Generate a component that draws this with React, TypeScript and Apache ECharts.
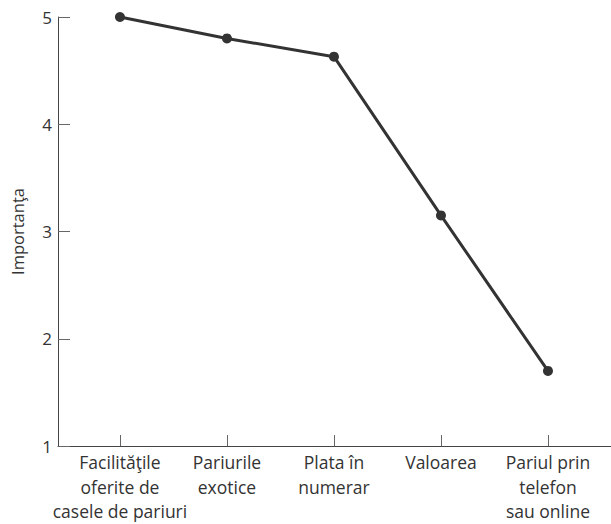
import React, { useEffect, useRef } from "react";
import * as echarts from "echarts";

const categories = [
  "Facilităţile\noferite de\ncasele de pariuri",
  "Pariurile\nexotice",
  "Plata în\nnumerar",
  "Valoarea",
  "Pariul prin\ntelefon\nsau online",
];
const values = [5.0, 4.8, 4.63, 3.15, 1.7];
const yTicks = [1, 2, 3, 4, 5];
const yName = "Importanţa";

export default function App() {
  const ref = useRef<HTMLDivElement>(null);
  useEffect(() => {
    if (!ref.current) return;
    const chart = echarts.init(ref.current, undefined, { renderer: "svg" });
    const idx = categories.map((_, i) => i);
    const font = "'Open Sans', sans-serif";
    chart.setOption({
      animation: false,
      grid: { left: 58, right: 0, top: 17, bottom: 78, containLabel: false, outerBoundsMode: "none" },
      xAxis: {
        type: "value",
        min: -0.579,
        max: 4.589,
        splitLine: { show: false },
        axisLine: { show: true, onZero: false, lineStyle: { color: "#444", width: 1 } },
        axisTick: {
          show: true,
          inside: true,
          length: 11,
          customValues: idx,
          lineStyle: { color: "#666", width: 1 },
        },
        axisLabel: {
          customValues: idx,
          formatter: (v: number) => categories[Math.round(v)] ?? "",
          color: "#333",
          fontFamily: font,
          fontSize: 17.5,
          lineHeight: 24.5,
          margin: 4,
          align: "center",
        },
      },
      yAxis: {
        type: "value",
        min: yTicks[0],
        max: yTicks[yTicks.length - 1],
        interval: 1,
        name: yName,
        nameLocation: "middle",
        nameGap: 32,
        nameTextStyle: { color: "#333", fontFamily: font, fontSize: 16.5 },
        splitLine: { show: false },
        axisLine: { show: true, onZero: false, lineStyle: { color: "#444", width: 1 } },
        axisTick: { show: true, inside: true, length: 12, lineStyle: { color: "#666", width: 1 } },
        axisLabel: { color: "#333", fontFamily: font, fontSize: 17, margin: 6 },
      },
      series: [
        {
          type: "line",
          data: values.map((v, i) => [i, v]),
          symbol: "circle",
          symbolSize: 10,
          lineStyle: { color: "#333", width: 3 },
          itemStyle: { color: "#333" },
        },
      ],
    });
    return () => chart.dispose();
  }, []);
  return (
    <div
      ref={ref}
      style={{ position: "absolute", left: 0, top: 0, width: 611, height: 524, background: "#fff" }}
    />
  );
}
